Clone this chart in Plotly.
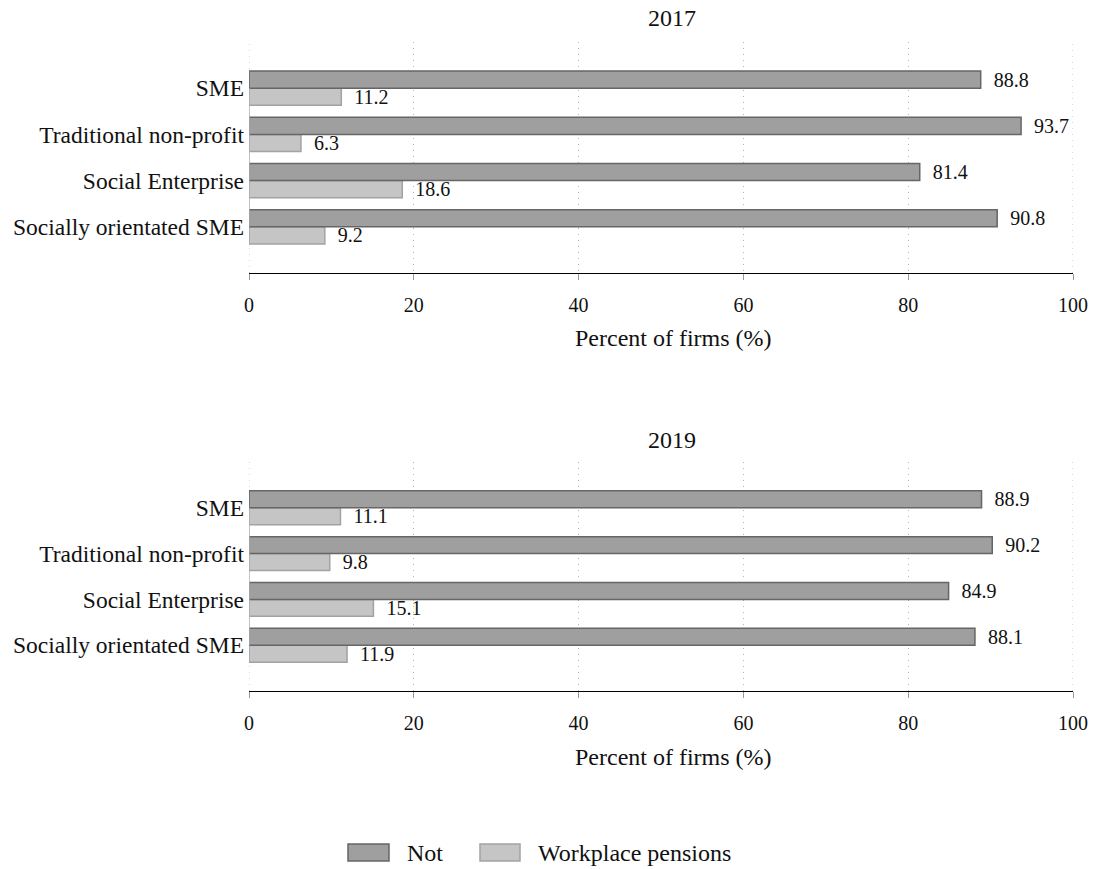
import plotly.graph_objs as go
from plotly.subplots import make_subplots

# categories, top to bottom
categories = ["SME", "Traditional non-profit", "Social Enterprise", "Socially orientated SME"]

# 2017 panel
not_2017 = [88.8, 93.7, 81.4, 90.8]
pension_2017 = [11.2, 6.3, 18.6, 9.2]

# 2019 panel
not_2019 = [88.9, 90.2, 84.9, 88.1]
pension_2019 = [11.1, 9.8, 15.1, 11.9]

x_ticks = [0, 20, 40, 60, 80, 100]
titles = ["2017", "2019"]
x_title = "Percent of firms (%)"
legend_names = ["Not", "Workplace pensions"]

FONT = "Liberation Serif"
INK = "#111111"
DARK = "#9f9f9f"
DARK_LINE = "#666666"
LIGHT = "#c5c5c5"
LIGHT_LINE = "#a2a2a2"
GRID = "#b5b5b5"
GRID_DASH = "1px,5px"

W, H = 1093.0, 869.0
L, R = 249.0, 20.0

def px(x):
    return (x - L) / (W - L - R)

def py(y):
    return 1 - y / H

fig = make_subplots(rows=2, cols=1)

panels = [(not_2017, pension_2017, 1), (not_2019, pension_2019, 2)]
for not_vals, pen_vals, row in panels:
    # horizontal grouped bars stack bottom-up, so pensions go in first
    fig.add_trace(go.Bar(
        y=categories, x=pen_vals, orientation="h", name=legend_names[1],
        marker=dict(color=LIGHT, line=dict(color=LIGHT_LINE, width=1.5)),
        texttemplate="  %{x:.1f}", textposition="outside", constraintext="none",
        textfont=dict(family=FONT, size=20, color=INK),
        cliponaxis=False, showlegend=False, hoverinfo="skip"),
        row=row, col=1)
    fig.add_trace(go.Bar(
        y=categories, x=not_vals, orientation="h", name=legend_names[0],
        marker=dict(color=DARK, line=dict(color=DARK_LINE, width=1.5)),
        texttemplate="  %{x:.1f}", textposition="outside", constraintext="none",
        textfont=dict(family=FONT, size=20, color=INK),
        cliponaxis=False, showlegend=False, hoverinfo="skip"),
        row=row, col=1)

# panel pixel spans: (plot top, plot bottom, title y, axis title y)
spans = {1: (42, 273, 18, 338), 2: (462, 691, 440, 757)}

for row in (1, 2):
    top, bottom, title_y, xt_y = spans[row]
    fig.update_xaxes(
        row=row, col=1, range=[0, 100], tickvals=x_ticks,
        showline=True, linecolor="black", linewidth=1.2,
        ticks="outside", ticklen=6, tickcolor="#999999", ticklabelstandoff=8,
        showgrid=True, gridcolor=GRID, griddash=GRID_DASH, gridwidth=1,
        zeroline=False,
        tickfont=dict(family=FONT, size=20, color=INK),
    )
    fig.update_yaxes(
        row=row, col=1, domain=[py(bottom), py(top)],
        categoryorder="array", categoryarray=categories[::-1],
        range=[-1, 4], showgrid=False, zeroline=False, showline=False,
        ticks="", ticklabelstandoff=4,
        tickfont=dict(family=FONT, size=23.5, color=INK),
    )
    sfx = "" if row == 1 else str(row)
    # gridlines at the range ends, which plotly leaves out
    for xv in (x_ticks[0], x_ticks[-1]):
        fig.add_shape(type="line", xref="x" + sfx, yref="y" + sfx + " domain",
                      x0=xv, x1=xv, y0=0, y1=1, layer="below",
                      line=dict(color=GRID, width=1, dash=GRID_DASH))
    # thin axis line spanning the categories
    fig.add_shape(type="line", xref="x" + sfx, yref="y" + sfx,
                  x0=0, x1=0, y0=categories[0], y1=categories[-1],
                  line=dict(color="#b0b0b0", width=1.5))
    fig.add_annotation(text=titles[row - 1], xref="paper", yref="paper",
                       x=px(672), y=py(title_y), yanchor="middle",
                       showarrow=False, font=dict(family=FONT, size=24, color=INK))
    fig.add_annotation(text=x_title, xref="paper", yref="paper",
                       x=px(673), y=py(xt_y), yanchor="middle",
                       showarrow=False, font=dict(family=FONT, size=24, color=INK))

# legend drawn by hand to get the wide swatches
legend_items = [(348, 389, 405, DARK, DARK_LINE), (480, 520, 536, LIGHT, LIGHT_LINE)]
for name, (x0, x1, xt, fill, edge) in zip(legend_names, legend_items):
    fig.add_shape(type="rect", xref="paper", yref="paper",
                  x0=px(x0), x1=px(x1), y0=py(861), y1=py(844),
                  fillcolor=fill, line=dict(color=edge, width=1.5))
    fig.add_annotation(text=name, xref="paper", yref="paper", x=px(xt), y=py(853),
                       xanchor="left", yanchor="middle", showarrow=False,
                       font=dict(family=FONT, size=24, color=INK))

fig.update_layout(
    width=W, height=H,
    margin=dict(l=L, r=R, t=0, b=0),
    plot_bgcolor="white", paper_bgcolor="white",
    barmode="group", bargap=0.26, bargroupgap=0,
    font=dict(family=FONT, size=20, color=INK),
    showlegend=False, hovermode=False,
)

# drop the default page margin so the figure fills the window exactly
fig.write_html("out.html", config={"displayModeBar": False},
               post_script="document.body.style.margin='0';")
